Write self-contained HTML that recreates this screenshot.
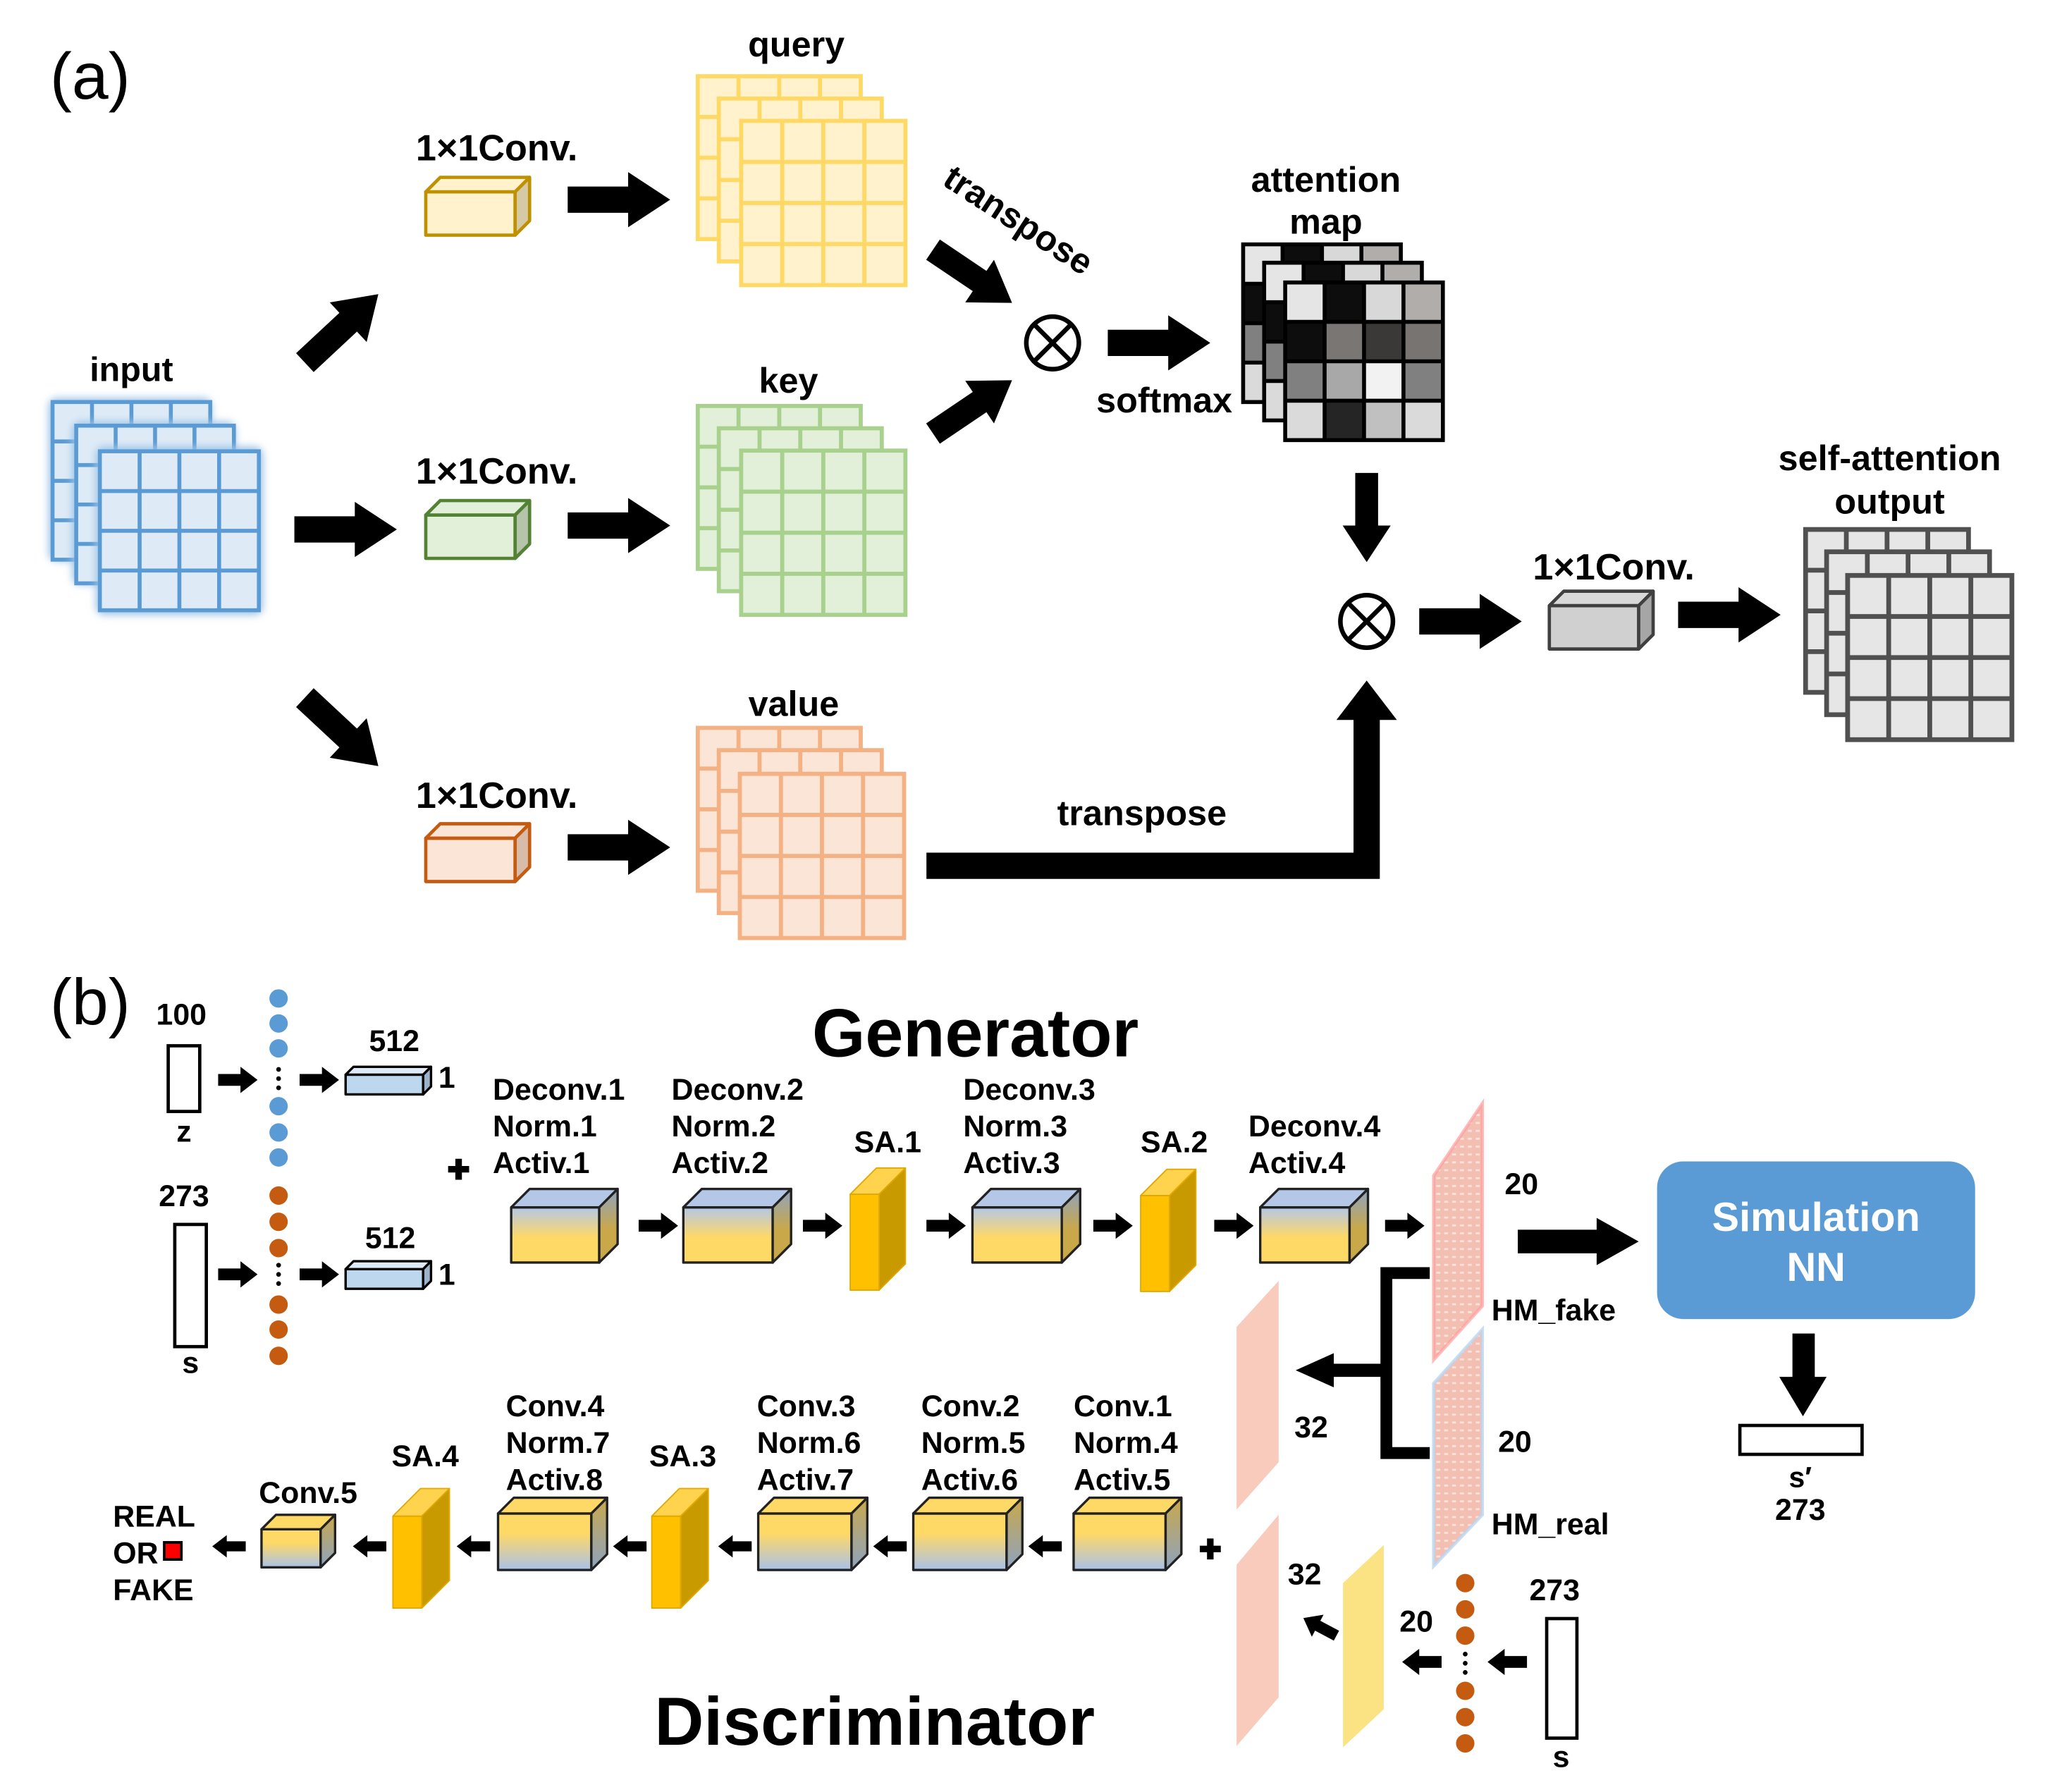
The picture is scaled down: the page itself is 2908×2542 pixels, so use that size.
<!DOCTYPE html>
<html><head><meta charset="utf-8"><style>
html,body{margin:0;padding:0;background:#fff}
svg{display:block}
text{font-family:"Liberation Sans",sans-serif;font-weight:bold;fill:#000}
</style></head><body>
<svg width="2908" height="2542" viewBox="0 0 1560 1364" preserveAspectRatio="none" xmlns="http://www.w3.org/2000/svg">
<defs>
<symbol id="g4" viewBox="0 0 120 120" overflow="visible">
<rect x="0" y="0" width="120" height="120"/>
<path d="M30,0V120M60,0V120M90,0V120M0,30H120M0,60H120M0,90H120" fill="none"/>
</symbol>
<symbol id="am" viewBox="0 0 120 120" overflow="visible">
<rect x="0" y="0" width="30" height="30" fill="#e5e5e5"/><rect x="30" y="0" width="30" height="30" fill="#0d0d0d"/><rect x="60" y="0" width="30" height="30" fill="#d8d8d8"/><rect x="90" y="0" width="30" height="30" fill="#b0adab"/>
<rect x="0" y="30" width="30" height="30" fill="#0d0d0d"/><rect x="30" y="30" width="30" height="30" fill="#7a7674"/><rect x="60" y="30" width="30" height="30" fill="#3a3938"/><rect x="90" y="30" width="30" height="30" fill="#787472"/>
<rect x="0" y="60" width="30" height="30" fill="#808080"/><rect x="30" y="60" width="30" height="30" fill="#a8a8a8"/><rect x="60" y="60" width="30" height="30" fill="#f2f2f2"/><rect x="90" y="60" width="30" height="30" fill="#808080"/>
<rect x="0" y="90" width="30" height="30" fill="#dadada"/><rect x="30" y="90" width="30" height="30" fill="#252525"/><rect x="60" y="90" width="30" height="30" fill="#c0c0c0"/><rect x="90" y="90" width="30" height="30" fill="#dadada"/>
<path d="M0,0H120V120H0ZM30,0V120M60,0V120M90,0V120M0,30H120M0,60H120M0,90H120" fill="none" stroke="#000" stroke-width="3"/>
</symbol>
<path id="ar" d="M0,-10H46V-21L78,0L46,21V10H0Z" fill="#000"/>
<path id="sar" d="M0,-4.5H17V-10L30,0L17,10V4.5H0Z" fill="#000"/>
<path id="plus" d="M-2.5,-8H2.5V-2.5H8V2.5H2.5V8H-2.5V2.5H-8V-2.5H-2.5Z" fill="#000"/>
<linearGradient id="gg" x1="0" y1="0" x2="0" y2="1"><stop offset="0" stop-color="#b4c7e7"/><stop offset="0.55" stop-color="#ffd966"/><stop offset="1" stop-color="#ffd966"/></linearGradient>
<linearGradient id="gd" x1="0" y1="0" x2="0" y2="1"><stop offset="0" stop-color="#ffd966"/><stop offset="0.35" stop-color="#ffd966"/><stop offset="1" stop-color="#a9c1ea"/></linearGradient>
<linearGradient id="gs" x1="0" y1="0" x2="0" y2="1"><stop offset="0" stop-color="#8ea3c0"/><stop offset="0.55" stop-color="#c9a84a"/><stop offset="1" stop-color="#c9a84a"/></linearGradient>
<linearGradient id="gds" x1="0" y1="0" x2="0" y2="1"><stop offset="0" stop-color="#c9a84a"/><stop offset="1" stop-color="#8ea3c0"/></linearGradient>
<filter id="blur" x="-20%" y="-20%" width="140%" height="140%"><feGaussianBlur stdDeviation="3"/></filter>
<pattern id="hm" width="6" height="6" patternUnits="userSpaceOnUse"><rect width="6" height="6" fill="#f2bfb2"/><rect x="1" y="2" width="3" height="1.5" fill="#fbe3dc"/></pattern>
</defs>

<!-- (a) -->
<text x="38" y="75" font-size="50" style="font-weight:normal">(a)</text>

<g fill="#deebf7" stroke="#5b9bd5" stroke-width="3">
<rect x="37" y="303" width="124" height="124" rx="6" fill="#9dc3e6" stroke="none" filter="url(#blur)"/>
<use href="#g4" x="40" y="306" width="120" height="120"/>
<rect x="55" y="321" width="124" height="124" rx="6" fill="#9dc3e6" stroke="none" filter="url(#blur)"/>
<use href="#g4" x="58" y="324" width="120" height="120"/>
<rect x="73" y="340" width="127" height="128" rx="6" fill="#9dc3e6" stroke="none" filter="url(#blur)"/>
<use href="#g4" x="76" y="343" width="121" height="122"/>
</g>
<text x="100" y="290" font-size="26" text-anchor="middle">input</text>

<g transform="translate(232,276) rotate(-43) scale(0.98)"><use href="#ar"/></g>
<g transform="translate(224,403) scale(1)"><use href="#ar"/></g>
<g transform="translate(232,531) rotate(43) scale(0.98)"><use href="#ar"/></g>

<text x="378" y="122" font-size="28" text-anchor="middle">1×1Conv.</text>
<text x="378" y="368" font-size="28" text-anchor="middle">1×1Conv.</text>
<text x="378" y="615" font-size="28" text-anchor="middle">1×1Conv.</text>
<g stroke-width="2.5" stroke-linejoin="round">
<g stroke="#bf9000"><rect x="324" y="146" width="68" height="33" fill="#fff2cc"/><polygon points="324,146 335,135 403,135 392,146" fill="#fff2cc"/><polygon points="392,146 403,135 403,168 392,179" fill="#d6c9a5"/></g>
<g stroke="#548235"><rect x="324" y="392" width="68" height="33" fill="#e2f0d9"/><polygon points="324,392 335,381 403,381 392,392" fill="#e2f0d9"/><polygon points="392,392 403,381 403,414 392,425" fill="#b5c4ab"/></g>
<g stroke="#c55a11"><rect x="324" y="638" width="68" height="33" fill="#fbe5d6"/><polygon points="324,638 335,627 403,627 392,638" fill="#fbe5d6"/><polygon points="392,638 403,627 403,660 392,671" fill="#d6bca9"/></g>
<g stroke="#404040"><rect x="1179" y="461" width="68" height="33" fill="#d0d0d0"/><polygon points="1179,461 1190,450 1258,450 1247,461" fill="#d9d9d9"/><polygon points="1247,461 1258,450 1258,483 1247,494" fill="#a6a6a6"/></g>
</g>
<g transform="translate(432,152)"><use href="#ar"/></g>
<g transform="translate(432,400)"><use href="#ar"/></g>
<g transform="translate(432,645)"><use href="#ar"/></g>

<g fill="#fff2cc" stroke="#ffd966" stroke-width="3">
<use href="#g4" x="531" y="58" width="124" height="124"/>
<use href="#g4" x="547" y="75" width="124" height="124"/>
<use href="#g4" x="564" y="92" width="125" height="125"/>
</g>
<g fill="#e2f0d9" stroke="#a9d18e" stroke-width="3">
<use href="#g4" x="531" y="309" width="124" height="124"/>
<use href="#g4" x="547" y="326" width="124" height="124"/>
<use href="#g4" x="564" y="343" width="125" height="125"/>
</g>
<g fill="#fbe5d6" stroke="#f4b183" stroke-width="3">
<use href="#g4" x="531" y="554" width="124" height="124"/>
<use href="#g4" x="547" y="571" width="124" height="124"/>
<use href="#g4" x="563" y="589" width="125" height="125"/>
</g>
<text x="606" y="43" font-size="27" text-anchor="middle">query</text>
<text x="600" y="299" font-size="27" text-anchor="middle">key</text>
<text x="604" y="545" font-size="27" text-anchor="middle">value</text>

<text x="0" y="0" font-size="27" transform="translate(716,140) rotate(33)">transpose</text>
<g transform="translate(710,190) rotate(34) scale(0.93)"><use href="#ar"/></g>
<g transform="translate(710,330) rotate(-34) scale(0.93)"><use href="#ar"/></g>
<g fill="none" stroke="#000" stroke-width="3.5">
<circle cx="801" cy="261" r="20"/><path d="M787,247L815,275M815,247L787,275"/>
<circle cx="1040" cy="473" r="20"/><path d="M1026,459L1054,487M1054,459L1026,487"/>
</g>
<g transform="translate(843,261)"><use href="#ar"/></g>
<text x="886" y="314" font-size="27" text-anchor="middle">softmax</text>
<text x="1009" y="146" font-size="27" text-anchor="middle">attention</text>
<text x="1009" y="178" font-size="27" text-anchor="middle">map</text>

<use href="#am" x="946" y="186" width="120" height="120"/>
<use href="#am" x="962" y="200" width="120" height="120"/>
<use href="#am" x="978" y="215" width="120" height="120"/>

<g transform="translate(1040,360) rotate(90) scale(0.87)"><use href="#ar"/></g>
<g transform="translate(1080,473)"><use href="#ar"/></g>
<text x="1228" y="441" font-size="28" text-anchor="middle">1×1Conv.</text>
<g transform="translate(1277,468)"><use href="#ar"/></g>
<text x="1438" y="358" font-size="27" text-anchor="middle">self-attention</text>
<text x="1438" y="391" font-size="27" text-anchor="middle">output</text>
<g fill="#e6e6e6" stroke="#505050" stroke-width="3.5">
<use href="#g4" x="1374" y="403" width="124" height="124"/>
<use href="#g4" x="1390" y="420" width="124" height="124"/>
<use href="#g4" x="1406" y="438" width="125" height="125"/>
</g>

<path d="M705,659H1040V545" fill="none" stroke="#000" stroke-width="20"/>
<polygon points="1017,548 1063,548 1040,518" fill="#000"/>
<text x="869" y="628" font-size="27" text-anchor="middle">transpose</text>

<!-- (b) -->
<text x="38" y="780" font-size="50" style="font-weight:normal">(b)</text>
<text x="618" y="804" font-size="52">Generator</text>
<text x="498" y="1328" font-size="52">Discriminator</text>

<text x="138" y="780" font-size="23" text-anchor="middle">100</text>
<rect x="128" y="796" width="24" height="50" fill="#fff" stroke="#000" stroke-width="2.5"/>
<text x="140" y="869" font-size="23" text-anchor="middle">z</text>
<text x="140" y="918" font-size="23" text-anchor="middle">273</text>
<rect x="133" y="932" width="24" height="93" fill="#fff" stroke="#000" stroke-width="2.5"/>
<text x="145" y="1045" font-size="23" text-anchor="middle">s</text>

<g fill="#5b9bd5"><circle cx="212" cy="760" r="7"/><circle cx="212" cy="779" r="7"/><circle cx="212" cy="798" r="7"/><circle cx="212" cy="842" r="7"/><circle cx="212" cy="862" r="7"/><circle cx="212" cy="881" r="7"/></g>
<g fill="#c55a11"><circle cx="212" cy="910" r="7"/><circle cx="212" cy="930" r="7"/><circle cx="212" cy="950" r="7"/><circle cx="212" cy="993" r="7"/><circle cx="212" cy="1012" r="7"/><circle cx="212" cy="1032" r="7"/></g>
<g fill="#000"><circle cx="212" cy="814" r="1.8"/><circle cx="212" cy="821" r="1.8"/><circle cx="212" cy="828" r="1.8"/><circle cx="212" cy="963" r="1.8"/><circle cx="212" cy="970" r="1.8"/><circle cx="212" cy="977" r="1.8"/></g>

<g transform="translate(166,822)"><use href="#sar"/></g>
<g transform="translate(228,822)"><use href="#sar"/></g>
<g transform="translate(166,970)"><use href="#sar"/></g>
<g transform="translate(228,970)"><use href="#sar"/></g>

<g stroke="#000" stroke-width="1.8" stroke-linejoin="round">
<rect x="263" y="818" width="59" height="15" fill="#bdd7ee"/><polygon points="263,818 269,812 328,812 322,818" fill="#deebf7"/><polygon points="322,818 328,812 328,827 322,833" fill="#9bb4cc"/>
<rect x="263" y="966" width="59" height="15" fill="#bdd7ee"/><polygon points="263,966 269,960 328,960 322,966" fill="#deebf7"/><polygon points="322,966 328,960 328,975 322,981" fill="#9bb4cc"/>
</g>
<text x="300" y="800" font-size="23" text-anchor="middle">512</text>
<text x="340" y="828" font-size="23" text-anchor="middle">1</text>
<text x="297" y="950" font-size="23" text-anchor="middle">512</text>
<text x="340" y="978" font-size="23" text-anchor="middle">1</text>
<use href="#plus" x="349" y="890"/>

<g font-size="23">
<text x="375" y="837">Deconv.1</text><text x="375" y="865">Norm.1</text><text x="375" y="893">Activ.1</text>
<text x="511" y="837">Deconv.2</text><text x="511" y="865">Norm.2</text><text x="511" y="893">Activ.2</text>
<text x="650" y="877">SA.1</text>
<text x="733" y="837">Deconv.3</text><text x="733" y="865">Norm.3</text><text x="733" y="893">Activ.3</text>
<text x="868" y="877">SA.2</text>
<text x="950" y="865">Deconv.4</text><text x="950" y="893">Activ.4</text>
</g>

<g stroke="#222" stroke-width="1.8" stroke-linejoin="round">
<rect x="389" y="919" width="67" height="42" fill="url(#gg)"/><polygon points="389,919 403,905 470,905 456,919" fill="#b4c7e7"/><polygon points="456,919 470,905 470,947 456,961" fill="url(#gs)"/>
<rect x="520" y="919" width="68" height="42" fill="url(#gg)"/><polygon points="520,919 534,905 602,905 588,919" fill="#b4c7e7"/><polygon points="588,919 602,905 602,947 588,961" fill="url(#gs)"/>
<rect x="740" y="919" width="68" height="42" fill="url(#gg)"/><polygon points="740,919 754,905 822,905 808,919" fill="#b4c7e7"/><polygon points="808,919 822,905 822,947 808,961" fill="url(#gs)"/>
<rect x="959" y="919" width="68" height="42" fill="url(#gg)"/><polygon points="959,919 973,905 1041,905 1027,919" fill="#b4c7e7"/><polygon points="1027,919 1041,905 1041,947 1027,961" fill="url(#gs)"/>
</g>
<g stroke="#e0a800" stroke-width="1" stroke-linejoin="round">
<rect x="647" y="909" width="22" height="73" fill="#ffc000"/><polygon points="647,909 667,889 689,889 669,909" fill="#ffd34d"/><polygon points="669,909 689,889 689,962 669,982" fill="#c99a00"/>
<rect x="868" y="910" width="22" height="73" fill="#ffc000"/><polygon points="868,910 888,890 910,890 890,910" fill="#ffd34d"/><polygon points="890,910 910,890 910,963 890,983" fill="#c99a00"/>
</g>
<g transform="translate(486,933)"><use href="#sar"/></g>
<g transform="translate(611,933)"><use href="#sar"/></g>
<g transform="translate(705,933)"><use href="#sar"/></g>
<g transform="translate(832,933)"><use href="#sar"/></g>
<g transform="translate(924,933)"><use href="#sar"/></g>
<g transform="translate(1054,933)"><use href="#sar"/></g>

<polygon points="1091,895 1128,840 1128,994 1091,1035" fill="url(#hm)" stroke="#ff9c9c" stroke-width="2.5" stroke-opacity="0.7"/>
<polygon points="1091,1053 1128,1012 1128,1153 1091,1192" fill="url(#hm)" stroke="#bcd6f0" stroke-width="2.5" stroke-opacity="0.8"/>
<text x="1145" y="909" font-size="23">20</text>
<text x="1135" y="1005" font-size="23">HM_fake</text>
<text x="1140" y="1105" font-size="23">20</text>
<text x="1135" y="1168" font-size="23">HM_real</text>

<polygon points="1155,936 1215,936 1215,927 1247,945 1215,963 1215,954 1155,954" fill="#000"/>
<rect x="1261" y="884" width="242" height="120" rx="20" fill="#5b9bd5"/>
<text x="1382" y="937" font-size="31" text-anchor="middle" style="fill:#fff">Simulation</text>
<text x="1382" y="975" font-size="31" text-anchor="middle" style="fill:#fff">NN</text>
<polygon points="1364,1015 1381,1015 1381,1048 1390,1048 1372,1078 1354,1048 1364,1048" fill="#000"/>
<rect x="1324" y="1085" width="93" height="22" fill="#fff" stroke="#000" stroke-width="2.5"/>
<text x="1370" y="1132" font-size="22" text-anchor="middle">s′</text>
<text x="1370" y="1157" font-size="23" text-anchor="middle">273</text>

<path d="M1088,969H1055V1106H1088" fill="none" stroke="#000" stroke-width="9"/>
<polygon points="1055,1038 1015,1038 1015,1030 986,1043 1015,1056 1015,1048 1055,1048" fill="#000"/>

<polygon points="941,1010 973,975 973,1113 941,1149" fill="#f8cbbd"/>
<polygon points="941,1191 973,1153 973,1292 941,1329" fill="#f8cbbd"/>
<polygon points="1022,1205 1053,1176 1053,1301 1022,1330" fill="#fbe283"/>
<text x="985" y="1094" font-size="23">32</text>
<text x="980" y="1206" font-size="23">32</text>
<text x="1065" y="1242" font-size="23">20</text>

<g transform="translate(1017,1245) rotate(-152) scale(0.95)"><use href="#sar"/></g>
<g transform="translate(1097,1265) rotate(180)"><use href="#sar"/></g>
<g transform="translate(1162,1265) rotate(180)"><use href="#sar"/></g>
<g fill="#c55a11"><circle cx="1115" cy="1205" r="7"/><circle cx="1115" cy="1225" r="7"/><circle cx="1115" cy="1245" r="7"/><circle cx="1115" cy="1287" r="7"/><circle cx="1115" cy="1307" r="7"/><circle cx="1115" cy="1327" r="7"/></g>
<g fill="#000"><circle cx="1115" cy="1259" r="1.8"/><circle cx="1115" cy="1266" r="1.8"/><circle cx="1115" cy="1273" r="1.8"/></g>
<rect x="1177" y="1232" width="23" height="91" fill="#fff" stroke="#000" stroke-width="2.5"/>
<text x="1183" y="1218" font-size="23" text-anchor="middle">273</text>
<text x="1188" y="1345" font-size="23" text-anchor="middle">s</text>
<use href="#plus" x="921" y="1179"/>

<g font-size="23">
<text x="817" y="1078">Conv.1</text><text x="817" y="1106">Norm.4</text><text x="817" y="1134">Activ.5</text>
<text x="701" y="1078">Conv.2</text><text x="701" y="1106">Norm.5</text><text x="701" y="1134">Activ.6</text>
<text x="576" y="1078">Conv.3</text><text x="576" y="1106">Norm.6</text><text x="576" y="1134">Activ.7</text>
<text x="494" y="1116">SA.3</text>
<text x="385" y="1078">Conv.4</text><text x="385" y="1106">Norm.7</text><text x="385" y="1134">Activ.8</text>
<text x="298" y="1116">SA.4</text>
<text x="197" y="1144">Conv.5</text>
<text x="86" y="1162">REAL</text><text x="86" y="1190">OR</text><text x="86" y="1218">FAKE</text>
</g>
<rect x="125" y="1174" width="13" height="13" fill="#ff0000" stroke="#000" stroke-width="2"/>

<g stroke="#222" stroke-width="1.8" stroke-linejoin="round">
<rect x="817" y="1152" width="70" height="43" fill="url(#gd)"/><polygon points="817,1152 829,1140 899,1140 887,1152" fill="#ffd966"/><polygon points="887,1152 899,1140 899,1183 887,1195" fill="url(#gds)"/>
<rect x="695" y="1152" width="71" height="43" fill="url(#gd)"/><polygon points="695,1152 707,1140 778,1140 766,1152" fill="#ffd966"/><polygon points="766,1152 778,1140 778,1183 766,1195" fill="url(#gds)"/>
<rect x="577" y="1152" width="71" height="43" fill="url(#gd)"/><polygon points="577,1152 589,1140 660,1140 648,1152" fill="#ffd966"/><polygon points="648,1152 660,1140 660,1183 648,1195" fill="url(#gds)"/>
<rect x="379" y="1152" width="71" height="43" fill="url(#gd)"/><polygon points="379,1152 391,1140 462,1140 450,1152" fill="#ffd966"/><polygon points="450,1152 462,1140 462,1183 450,1195" fill="url(#gds)"/>
<rect x="199" y="1164" width="45" height="29" fill="url(#gd)"/><polygon points="199,1164 210,1153 255,1153 244,1164" fill="#ffd966"/><polygon points="244,1164 255,1153 255,1182 244,1193" fill="url(#gds)"/>
</g>
<g stroke="#e0a800" stroke-width="1" stroke-linejoin="round">
<rect x="496" y="1154" width="22" height="70" fill="#ffc000"/><polygon points="496,1154 517,1133 539,1133 518,1154" fill="#ffd34d"/><polygon points="518,1154 539,1133 539,1203 518,1224" fill="#c99a00"/>
<rect x="299" y="1154" width="22" height="70" fill="#ffc000"/><polygon points="299,1154 320,1133 342,1133 321,1154" fill="#ffd34d"/><polygon points="321,1154 342,1133 342,1203 321,1224" fill="#c99a00"/>
</g>
<g transform="translate(808,1177) rotate(180) scale(0.85)"><use href="#sar"/></g>
<g transform="translate(690,1177) rotate(180) scale(0.85)"><use href="#sar"/></g>
<g transform="translate(572,1177) rotate(180) scale(0.85)"><use href="#sar"/></g>
<g transform="translate(492,1177) rotate(180) scale(0.85)"><use href="#sar"/></g>
<g transform="translate(373,1177) rotate(180) scale(0.85)"><use href="#sar"/></g>
<g transform="translate(294,1177) rotate(180) scale(0.85)"><use href="#sar"/></g>
<g transform="translate(187,1177) rotate(180) scale(0.85)"><use href="#sar"/></g>
</svg>
</body></html>
